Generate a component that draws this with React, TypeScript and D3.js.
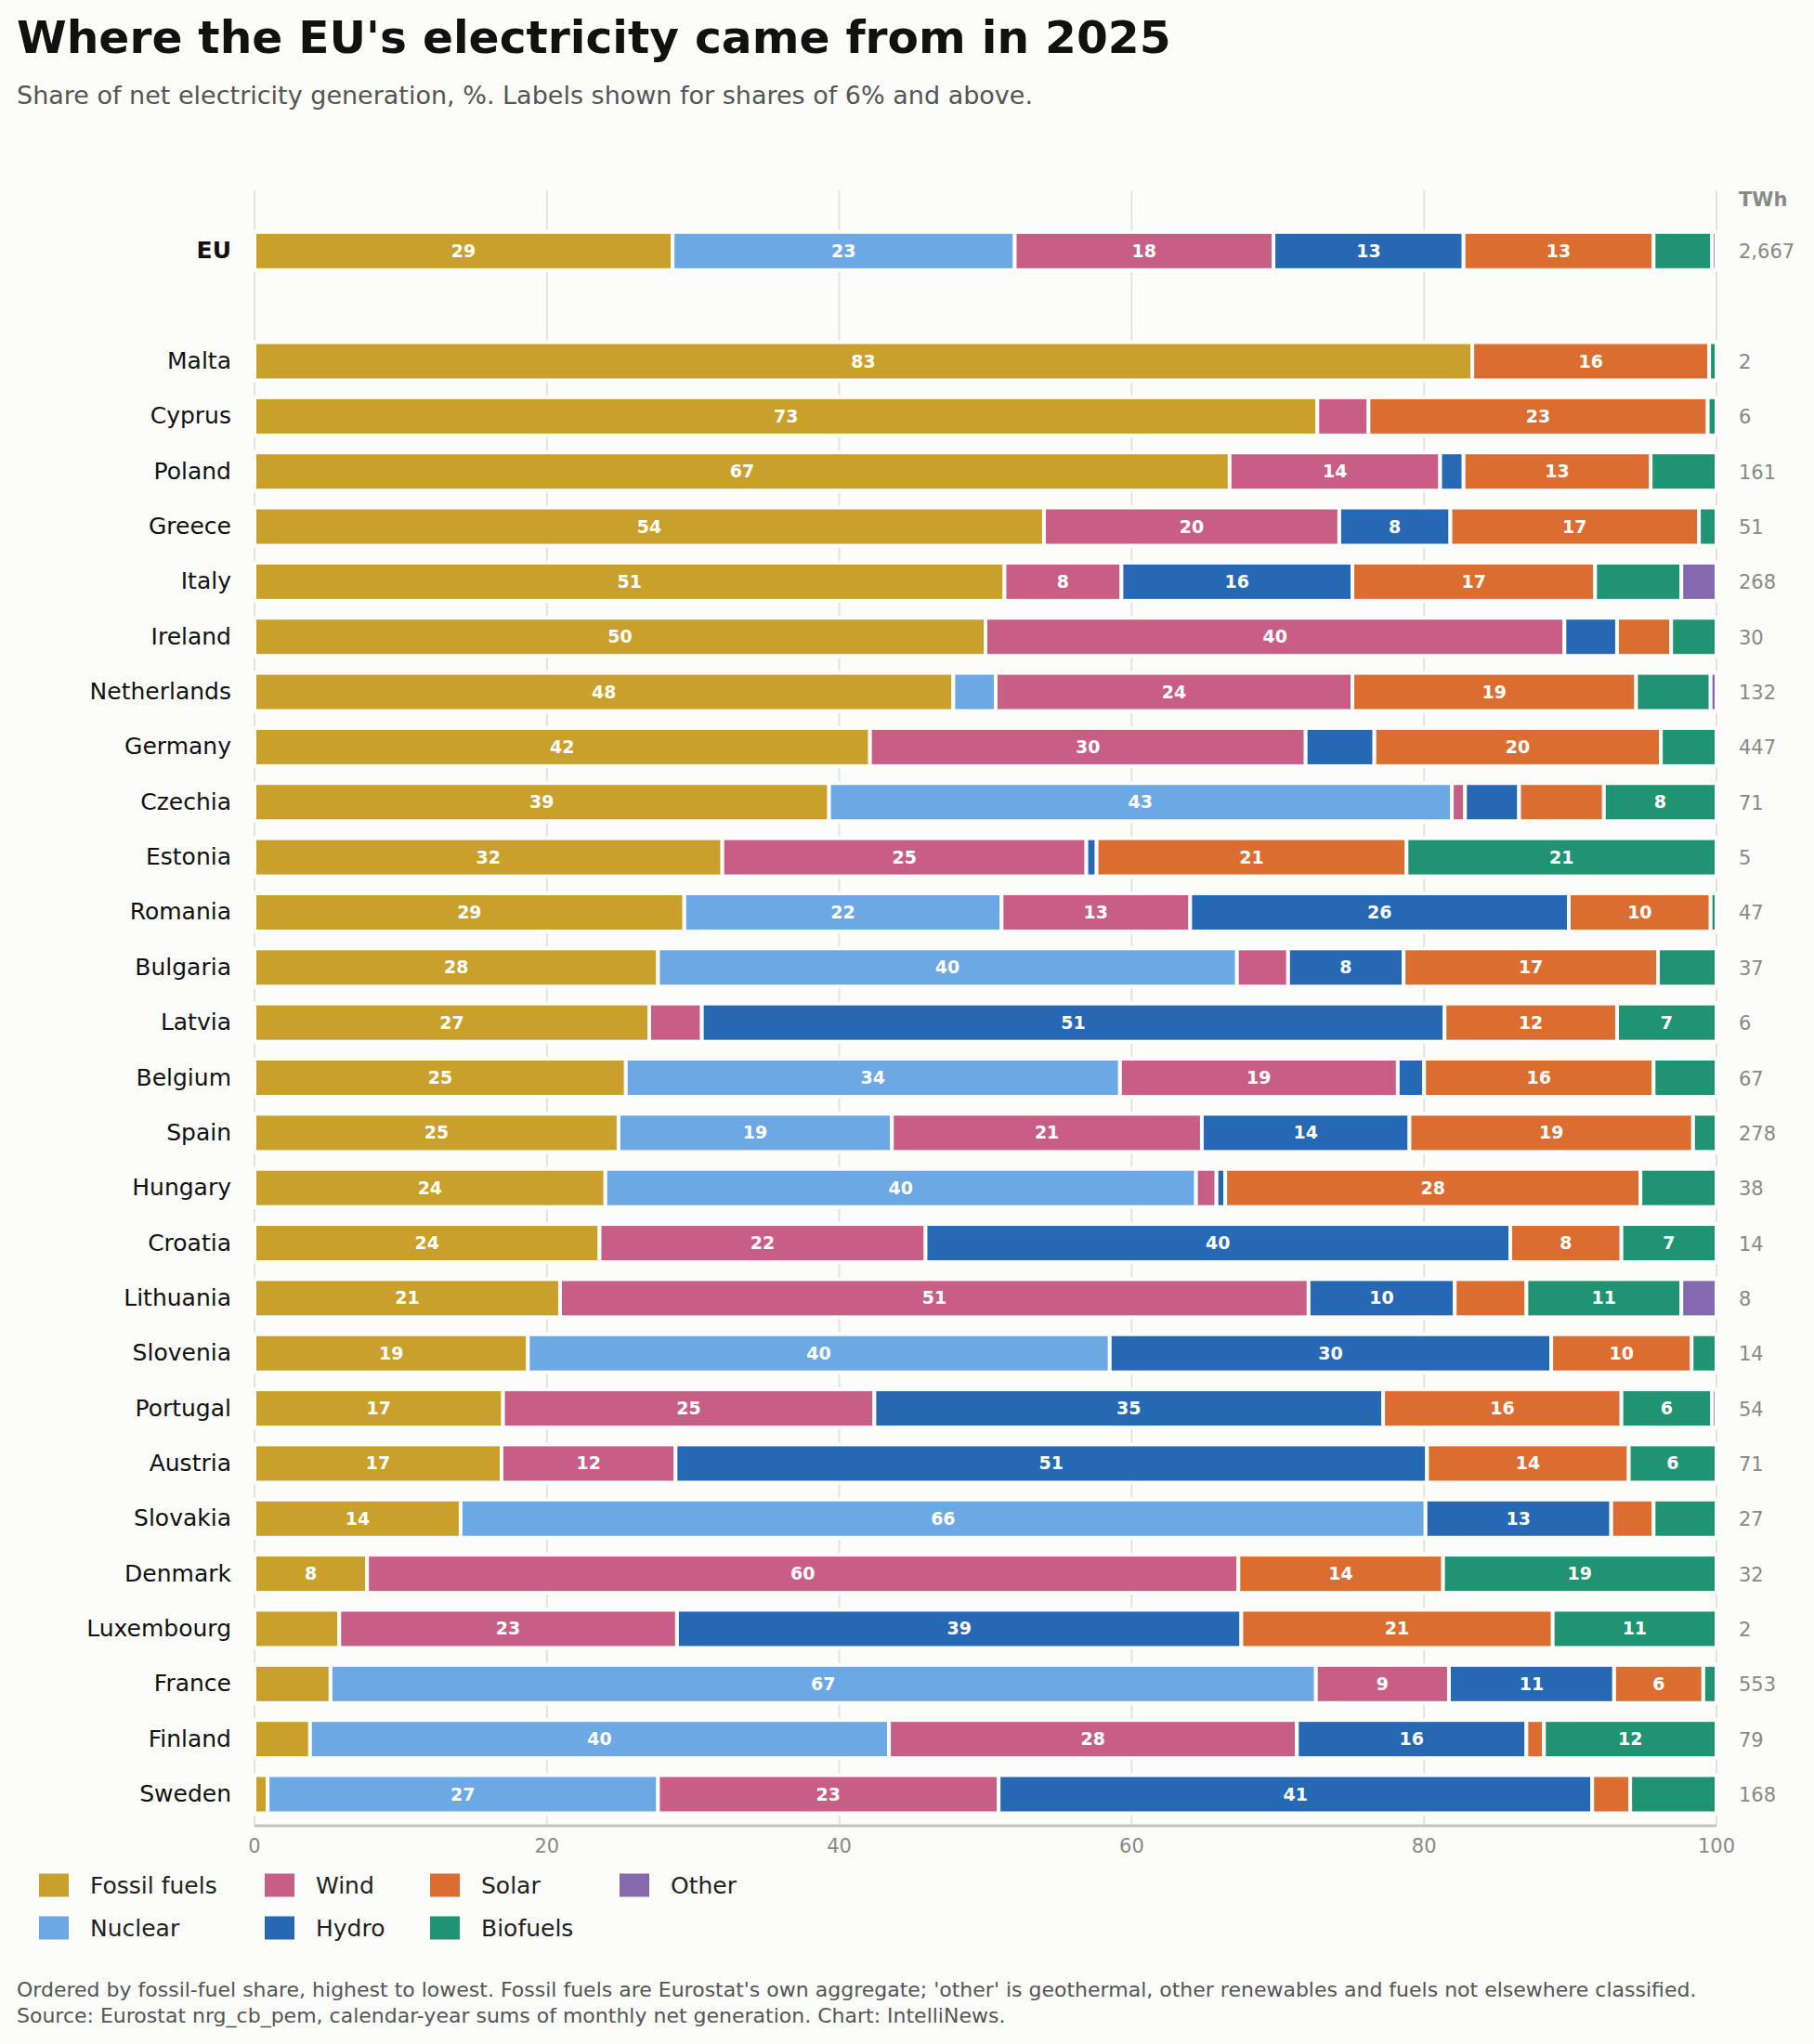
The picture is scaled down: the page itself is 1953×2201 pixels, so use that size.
import { useEffect } from "react";
import * as d3 from "d3";

const countries = ["EU", "Malta", "Cyprus", "Poland", "Greece", "Italy", "Ireland", "Netherlands", "Germany", "Czechia", "Estonia", "Romania", "Bulgaria", "Latvia", "Belgium", "Spain", "Hungary", "Croatia", "Lithuania", "Slovenia", "Portugal", "Austria", "Slovakia", "Denmark", "Luxembourg", "France", "Finland", "Sweden"];

const fossil = [28.6, 83.3, 72.7, 66.7, 54.0, 51.3, 50.0, 47.8, 42.1, 39.3, 32.0, 29.4, 27.6, 27.0, 25.4, 24.9, 24.0, 23.6, 20.9, 18.7, 17.0, 16.9, 14.1, 7.7, 5.8, 5.2, 3.8, 0.9];
const nuclear = [23.4, 0, 0, 0, 0, 0, 0, 2.9, 0, 42.6, 0, 21.7, 39.6, 0, 33.8, 18.7, 40.4, 0, 0, 39.8, 0, 0, 66.0, 0, 0, 67.4, 39.6, 26.7];
const wind = [17.7, 0, 3.5, 14.4, 20.2, 8.0, 39.6, 24.4, 29.8, 0.9, 24.9, 12.9, 3.5, 3.6, 19.0, 21.2, 1.4, 22.3, 51.2, 0, 25.4, 11.9, 0, 59.6, 23.1, 9.1, 27.9, 23.3];
const hydro = [13.0, 0, 0, 1.6, 7.6, 15.8, 3.6, 0, 4.7, 3.7, 0.7, 25.9, 7.9, 50.8, 1.8, 14.2, 0.6, 40.0, 10.0, 30.2, 34.8, 51.4, 12.7, 0, 38.6, 11.3, 15.7, 40.6];
const solar = [13.0, 16.2, 23.2, 12.8, 17.0, 16.6, 3.7, 19.4, 19.6, 5.8, 21.2, 9.7, 17.4, 11.8, 15.7, 19.4, 28.4, 7.6, 4.9, 9.6, 16.3, 13.8, 2.9, 14.0, 21.3, 6.1, 1.2, 2.6];
const biofuels = [4.0, 0.5, 0.6, 4.5, 1.2, 5.9, 3.1, 5.1, 3.8, 7.7, 21.2, 0.4, 4.0, 6.8, 4.3, 1.6, 5.2, 6.5, 10.6, 1.7, 6.2, 6.0, 4.3, 18.7, 11.2, 0.9, 11.8, 5.9];
const other = [0.3, 0, 0, 0, 0, 2.4, 0, 0.4, 0, 0, 0, 0, 0, 0, 0, 0, 0, 0, 2.4, 0, 0.3, 0, 0, 0, 0, 0, 0, 0];
const twh = ["2,667", "2", "6", "161", "51", "268", "30", "132", "447", "71", "5", "47", "37", "6", "67", "278", "38", "14", "8", "14", "54", "71", "27", "32", "2", "553", "79", "168"];

const sources = ["Fossil fuels", "Nuclear", "Wind", "Hydro", "Solar", "Biofuels", "Other"];
const colors = ["#C9A02C", "#6CA8E3", "#C85E85", "#2668B3", "#DC6D31", "#1F9372", "#8568AE"];
const legendOrder = ["Fossil fuels", "Wind", "Solar", "Other", "Nuclear", "Hydro", "Biofuels"];
const xTicks = [0, 20, 40, 60, 80, 100];

const BG = "#FCFCFA";
const FONT = "'DejaVu Sans', sans-serif";

const App = () => {
  useEffect(() => {
    document.body.style.margin = "0";
    document.body.style.background = BG;
  }, []);

  const width = 1953;
  const height = 2201;

  const series = [fossil, nuclear, wind, hydro, solar, biofuels, other];
  const rows = countries.map((c, i) => {
    const r: any = { country: c };
    sources.forEach((s, j) => (r[s] = series[j][i]));
    return r;
  });
  const stacked = d3.stack().keys(sources)(rows);

  const x = d3.scaleLinear().domain([0, 100]).range([274, 1848]);
  // EU sits two rows above Malta
  const y = d3.scaleLinear().domain([0, 26]).range([389, 1932]);
  const rowY = (i: number) => (i === 0 ? y(-2) : y(i - 1));
  const color = d3.scaleOrdinal<string>().domain(sources).range(colors);
  const barH = 41;

  return (
    <svg width={width} height={height} style={{ display: "block", background: BG }} fontFamily={FONT}>
      <rect width={width} height={height} fill={BG} />
      <text x={18} y={57} fontSize={48.7} fontWeight="bold" fill="#111">
        Where the EU's electricity came from in 2025
      </text>
      <text x={18} y={112} fontSize={27} fill="#555">
        Share of net electricity generation, %. Labels shown for shares of 6% and above.
      </text>

      {/* grid */}
      {xTicks.map((t) => (
        <line key={t} x1={x(t)} x2={x(t)} y1={205} y2={1966} stroke="#E3E3DD" strokeWidth={2} />
      ))}
      {countries.map((c, i) => (
        <rect key={c} x={x(0) - 3} width={x(100) - x(0) + 6} y={rowY(i) - barH / 2 - 2} height={barH + 4} fill={BG} />
      ))}

      {/* bars */}
      {stacked.map((s) => (
        <g key={s.key} fill={color(s.key)}>
          {s.map((d, i) =>
            d[1] - d[0] > 0 ? (
              <rect
                key={i}
                x={x(d[0])}
                width={x(d[1]) - x(d[0])}
                y={rowY(i) - barH / 2}
                height={barH}
                stroke={BG}
                strokeWidth={4}
              />
            ) : null
          )}
        </g>
      ))}
      {stacked.map((s) =>
        s.map((d, i) => {
          const v = d[1] - d[0];
          if (v < 6) return null;
          return (
            <text
              key={s.key + i}
              x={(x(d[0]) + x(d[1])) / 2}
              y={rowY(i) + 6.5}
              textAnchor="middle"
              fontSize={19}
              fontWeight="bold"
              fill="#fff"
            >
              {Math.round(v)}
            </text>
          );
        })
      )}

      {/* row labels */}
      {countries.map((c, i) => (
        <text
          key={c}
          x={249}
          y={rowY(i) + 8}
          textAnchor="end"
          fontSize={25}
          fontWeight={i === 0 ? "bold" : "normal"}
          fill="#111"
        >
          {c}
        </text>
      ))}

      {/* TWh column */}
      <text x={1872} y={222} fontSize={21} fontWeight="bold" fill="#8A8A84">
        TWh
      </text>
      {twh.map((t, i) => (
        <text key={i} x={1872} y={rowY(i) + 8} fontSize={21} fill="#8A8A84">
          {t}
        </text>
      ))}

      {/* axis */}
      <line x1={x(0)} x2={x(100)} y1={1966} y2={1966} stroke="#C4C4BC" strokeWidth={3} />
      {xTicks.map((t) => (
        <text key={t} x={x(t)} y={1995} textAnchor="middle" fontSize={21} fill="#8A8A84">
          {t}
        </text>
      ))}

      {/* legend */}
      {legendOrder.map((s, k) => {
        const col = k < 4 ? k : k - 4;
        const row = k < 4 ? 0 : 1;
        const lx = [42, 285, 463, 667][col];
        const ly = row === 0 ? 2030 : 2076;
        return (
          <g key={s}>
            <rect x={lx} y={ly - 12.5} width={32} height={25} fill={color(s)} />
            <text x={lx + 55} y={ly + 9} fontSize={25} fill="#222">
              {s}
            </text>
          </g>
        );
      })}

      {/* footer */}
      <text x={18} y={2150} fontSize={22} fill="#555">
        Ordered by fossil-fuel share, highest to lowest. Fossil fuels are Eurostat's own aggregate; 'other' is geothermal, other renewables and fuels not elsewhere classified.
      </text>
      <text x={18} y={2178} fontSize={22} fill="#555">
        Source: Eurostat nrg_cb_pem, calendar-year sums of monthly net generation. Chart: IntelliNews.
      </text>
    </svg>
  );
};

export default App;
